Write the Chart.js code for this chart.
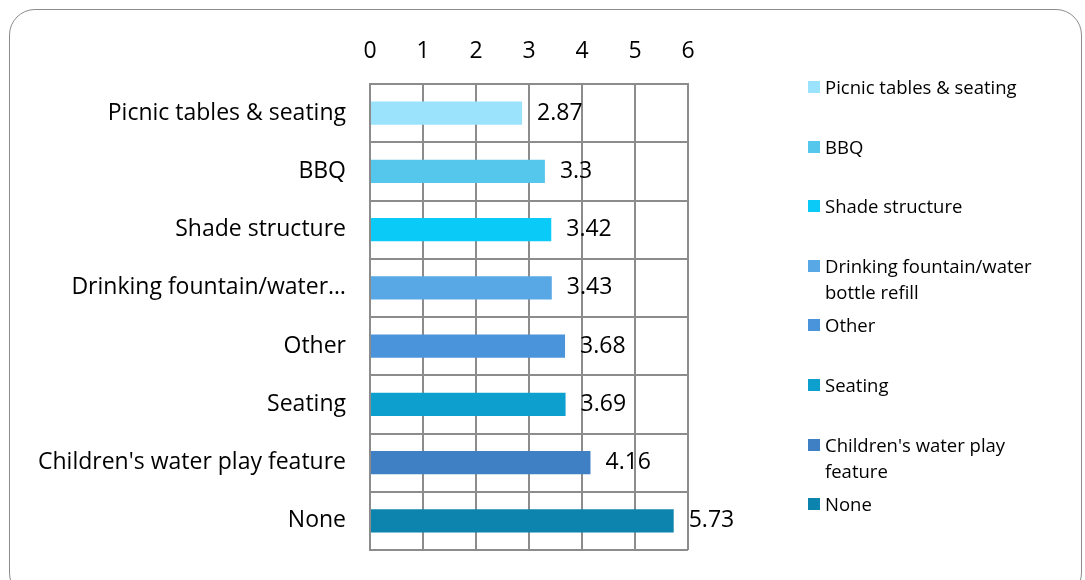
<!DOCTYPE html>
<html>
<head>
<meta charset="utf-8">
<script src="https://cdn.jsdelivr.net/npm/chart.js@4"></script>
<style>
  body { margin: 0; background: #fff; overflow: hidden; }
  #wrap { position: relative; width: 1085px; height: 580px; }
  #frame {
    position: absolute; left: 9px; top: 9px; width: 1073px; height: 590px;
    border: 1.5px solid #8c8c8c; border-radius: 26px; box-sizing: border-box;
  }
  canvas { position: absolute; left: 0; top: 0; }
  #legend {
    position: absolute; left: 808px; top: 74px; margin: 0; padding: 0; list-style: none;
    font-family: "Open Sans", sans-serif; font-size: 18.5px; color: #000;
  }
  #legend li { height: 59.6px; width: 240px; position: relative; padding-left: 17px; box-sizing: border-box; line-height: 26px; }
  #legend span.box { position: absolute; left: 0; top: 7px; width: 12px; height: 12px; }
</style>
</head>
<body>
<div id="wrap">
  <div id="frame"></div>
  <canvas id="ctx" width="1085" height="580"></canvas>
  <ul id="legend"></ul>
</div>
<script>
const categories = ["Picnic tables & seating", "BBQ", "Shade structure", "Drinking fountain/water bottle refill", "Other", "Seating", "Children's water play feature", "None"];
const values = [2.87, 3.3, 3.42, 3.43, 3.68, 3.69, 4.16, 5.73];
const colors = ["#9BE3FD", "#55C6EC", "#0ACBF7", "#58A8E6", "#4A94DC", "#0DA0CF", "#3F7FC3", "#0C84AD"];
const ticks = [0, 1, 2, 3, 4, 5, 6];

const FONT = "'Open Sans', sans-serif";

const valueLabels = {
  id: "valueLabels",
  afterDatasetsDraw(chart) {
    const { ctx } = chart;
    const meta = chart.getDatasetMeta(0);
    ctx.save();
    ctx.font = "23px " + FONT;
    ctx.fillStyle = "#000";
    ctx.textBaseline = "middle";
    meta.data.forEach((bar, i) => {
      ctx.fillText(String(values[i]), bar.x + 15, bar.y);
    });
    ctx.restore();
  }
};

let ctx = document.getElementById("ctx");
let chart = new Chart(ctx, {
  type: "bar",
  data: {
    labels: categories,
    datasets: [
      {
        data: values,
        backgroundColor: colors,
        categoryPercentage: 1,
        barPercentage: 0.4,
      },
    ],
  },
  options: {
    indexAxis: "y",
    responsive: false,
    animation: false,
    layout: { padding: { left: 0, top: 0, right: 397, bottom: 30 } },
    scales: {
      x: {
        position: "top",
        min: 0,
        max: 6,
        afterBuildTicks: (scale) => {
          scale.ticks = ticks.map((v) => ({ value: v }));
        },
        afterFit: (scale) => { scale.height = 84; },
        grid: { color: "#8c8c8c", lineWidth: 2, drawTicks: false },
        border: { color: "#8c8c8c", width: 2 },
        ticks: { color: "#000", padding: 19, font: { family: FONT, size: 23 } },
      },
      y: {
        afterFit: (scale) => { scale.width = 370; scale.paddingTop = 0; scale.paddingBottom = 0; },
        grid: { color: "#8c8c8c", lineWidth: 2, drawTicks: false, offset: true },
        border: { color: "#8c8c8c", width: 2 },
        ticks: {
          color: "#000",
          padding: 24,
          font: { family: FONT, size: 23 },
          callback: function (value) {
            const l = this.getLabelForValue(value);
            return l.length > 30 ? l.slice(0, 23) + "…" : l;
          },
        },
      },
    },
    plugins: {
      legend: { display: false },
      tooltip: { enabled: false },
    },
  },
  plugins: [valueLabels],
});

const legend = document.getElementById("legend");
categories.forEach((c, i) => {
  const li = document.createElement("li");
  li.innerHTML = '<span class="box" style="background:' + colors[i] + '"></span>' + c;
  legend.appendChild(li);
});
</script>
</body>
</html>
